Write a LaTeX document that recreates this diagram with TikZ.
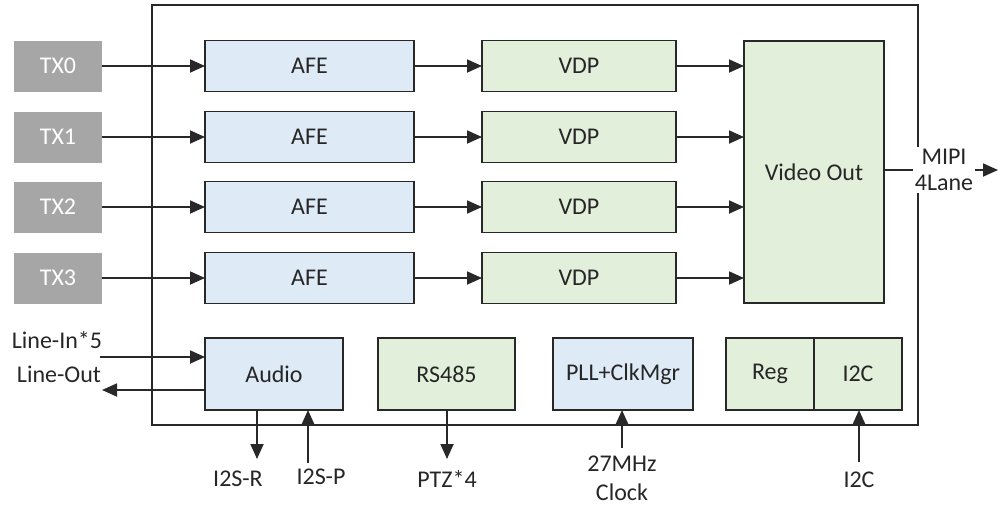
\documentclass[tikz,border=0pt]{standalone}
\usepackage{fontspec}
\setmainfont{Carlito}
\usetikzlibrary{positioning,arrows.meta}

\definecolor{afeblue}{RGB}{222,235,247}
\definecolor{vdpgreen}{RGB}{226,239,218}
\definecolor{txgray}{RGB}{166,166,166}
\definecolor{edgegray}{RGB}{40,40,40}
\definecolor{labelgray}{RGB}{38,38,38}

\tikzset{
  blk/.style={draw=edgegray, line width=1.3pt, inner sep=0pt, outer sep=0pt,
    text=labelgray, font=\fontsize{24}{28}\selectfont},
  afeblk/.style={blk, fill=afeblue, minimum width=209pt, minimum height=51pt},
  vdpblk/.style={blk, fill=vdpgreen, minimum width=194pt, minimum height=51pt},
  txblk/.style={fill=txgray, text=white, inner sep=0pt, outer sep=0pt,
    minimum width=88pt, minimum height=51pt, font=\fontsize{24}{28}\selectfont},
  lowblk/.style={blk, minimum height=72pt},
  pinlabel/.style={text=labelgray, inner sep=1pt, align=center,
    font=\fontsize{24}{29}\selectfont},
}

\begin{document}
\begin{tikzpicture}[x=1pt, y=-1pt, line width=1.8pt, draw=edgegray,
    >={Triangle[length=15pt,width=13pt]}]

    \useasboundingbox (0,0) rectangle (998,506);

    % chip outline
    \node[draw=edgegray, line width=1.3pt, inner sep=0pt, outer sep=0pt,
      minimum width=766pt, minimum height=420pt] (chip) at (535,215) {};

    % video inputs
    \node[txblk] (tx0) at (58,66) {TX0};
    \node[txblk] (tx1) at (58,137) {TX1};
    \node[txblk] (tx2) at (58,207) {TX2};
    \node[txblk] (tx3) at (58,278) {TX3};

    \node[afeblk] (afe0) at (309.5,66) {AFE};
    \node[afeblk] (afe1) at (309.5,137) {AFE};
    \node[afeblk] (afe2) at (309.5,207) {AFE};
    \node[afeblk] (afe3) at (309.5,278) {AFE};

    \node[vdpblk] (vdp0) at (579,66) {VDP};
    \node[vdpblk] (vdp1) at (579,137) {VDP};
    \node[vdpblk] (vdp2) at (579,207) {VDP};
    \node[vdpblk] (vdp3) at (579,278) {VDP};

    \node[blk, fill=vdpgreen, minimum width=140pt, minimum height=262pt]
      (vout) at (814,172) {Video Out};

    % lower row
    \node[lowblk, fill=afeblue, minimum width=138pt] (audio) at (274,374) {Audio};
    \node[lowblk, fill=vdpgreen, minimum width=137pt] (rs485) at (446.5,374) {RS485};
    \node[lowblk, fill=afeblue, minimum width=140pt] (pll) at (623,374) {PLL+ClkMgr};
    \node[lowblk, fill=vdpgreen, minimum width=88pt] (reg) at (770,374) {Reg};
    \node[lowblk, fill=vdpgreen, minimum width=88pt] (i2c) [right=0pt of reg] {I2C};

    \path[->]
        (tx0) edge (afe0)
        (tx1) edge (afe1)
        (tx2) edge (afe2)
        (tx3) edge (afe3)
        (afe0) edge (vdp0)
        (afe1) edge (vdp1)
        (afe2) edge (vdp2)
        (afe3) edge (vdp3)
        (vdp0) edge (vdp0 -| vout.west)
        (vdp1) edge (vdp1 -| vout.west)
        (vdp2) edge (vdp2 -| vout.west)
        (vdp3) edge (vdp3 -| vout.west);

    % MIPI output
    \coordinate (mipiend) at (998,170);
    \draw[->] (vout.east |- mipiend) -- (mipiend);
    \node[pinlabel, fill=white, inner sep=2pt, font=\fontsize{24}{26}\selectfont]
      (mipi) at (944,170) {MIPI\\4Lane};

    % audio pins
    \node[pinlabel] (linein) at (57,340) {Line-In*5};
    \node[pinlabel] (lineout) at (59,374) {Line-Out};
    \coordinate (linin) at (100,357);
    \coordinate (linout) at (102,390);
    \draw[->] (linin) -- (linin -| audio.west);
    \draw[->] (linout -| audio.west) -- (linout);

    % bottom pins
    \node[pinlabel] (i2sr) at (238,479) {I2S-R};
    \node[pinlabel] (i2sp) at (321,477) {I2S-P};
    \node[pinlabel] (ptz) at (447,479) {PTZ*4};
    \node[pinlabel] (clk) at (622,478.5) {27MHz\\Clock};
    \node[pinlabel] (i2cpin) at (859,480) {I2C};

    \coordinate (i2srend) at (257,459);
    \coordinate (i2spend) at (308,463);
    \coordinate (ptzend) at (447,459);
    \coordinate (clkend) at (622,448);
    \coordinate (i2cend) at (859,462);

    \draw[->] (audio.south -| i2srend) -- (i2srend);
    \draw[->] (i2spend) -- (audio.south -| i2spend);
    \draw[->] (rs485.south -| ptzend) -- (ptzend);
    \draw[->] (clkend) -- (pll.south -| clkend);
    \draw[->] (i2cend) -- (i2c.south -| i2cend);

\end{tikzpicture}
\end{document}
